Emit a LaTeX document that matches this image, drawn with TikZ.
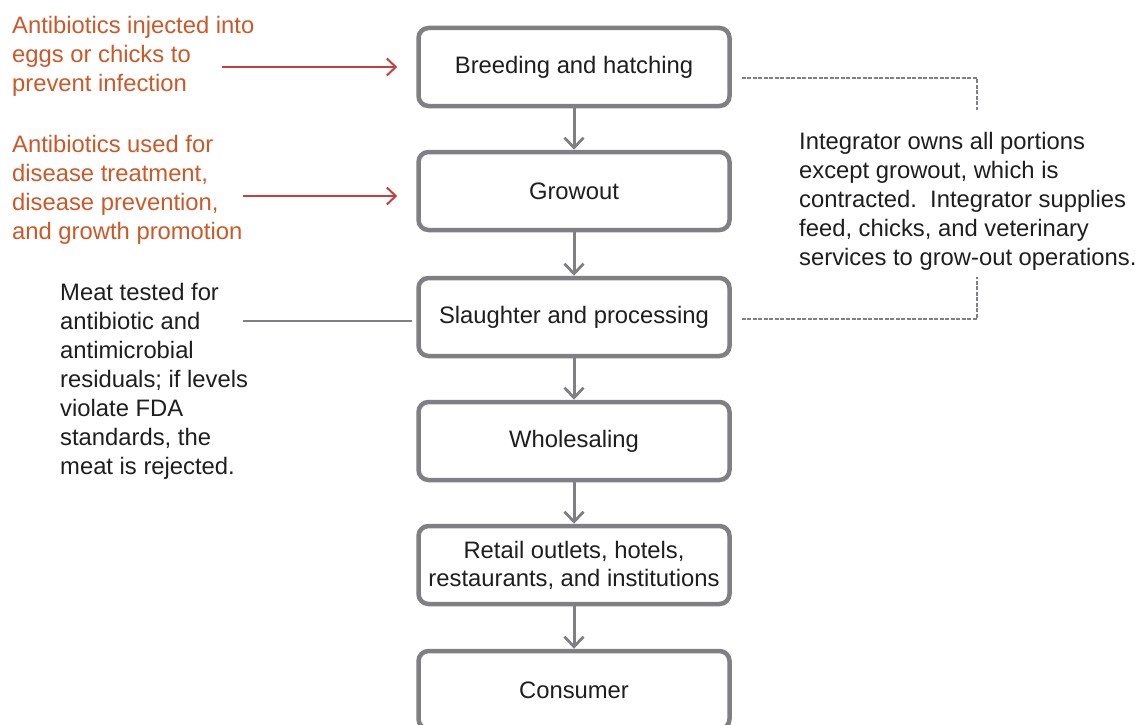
\documentclass[tikz,border=0pt]{standalone}
\usepackage{fontspec}
\setmainfont{Liberation Sans}
\usetikzlibrary{arrows.meta}
\definecolor{boxgray}{RGB}{128,128,132}
\definecolor{redarrow}{RGB}{196,64,64}
\definecolor{orangetext}{RGB}{204,88,40}
\definecolor{textblack}{RGB}{30,30,30}
\begin{document}
\begin{tikzpicture}[x=1pt,y=-1pt,
  stagebox/.style={draw=boxgray, line width=4.5pt, rounded corners=10pt, fill=white,
    minimum width=311pt, minimum height=78pt, align=center, text=textblack,
    font=\fontsize{23.8}{28}\selectfont, inner sep=0pt},
  flowarrow/.style={draw=boxgray, line width=3pt, -{Straight Barb[length=10pt,width=19pt,line width=2.8pt]}},
  redarr/.style={draw=redarrow, line width=2.3pt, -{Straight Barb[length=9pt,width=17pt,line width=2pt]}},
  note/.style={align=left, font=\fontsize{23.8}{29}\selectfont, inner sep=0pt, anchor=north west},
  bracket/.style={draw=boxgray, line width=1.3pt, dash pattern=on 4pt off 1.5pt}
]
\clip (0,0) rectangle (1140,725);
\useasboundingbox (0,0) rectangle (1140,725);

\node[stagebox] (b1) at (574,67) {\raisebox{-2pt}{Breeding and hatching}};
\node[stagebox] (b2) at (574,191) {\raisebox{-2pt}{Growout}};
\node[stagebox] (b3) at (574,317) {\raisebox{-2pt}{Slaughter and processing}};
\node[stagebox] (b4) at (574,441) {\raisebox{-2pt}{Wholesaling}};
\node[stagebox] (b5) at (574,565) {Retail outlets, hotels,\\restaurants, and institutions};
\node[stagebox] (b6) at (574,690) {\raisebox{-2pt}{Consumer}};

\draw[flowarrow] (b1.south) -- (b2.north);
\draw[flowarrow] (b2.south) -- (b3.north);
\draw[flowarrow] (b3.south) -- (b4.north);
\draw[flowarrow] (b4.south) -- (b5.north);
\draw[flowarrow] (b5.south) -- (b6.north);

\node[note, text=orangetext] (t1) at (12,16) {Antibiotics injected into\\eggs or chicks to\\prevent infection};
\node[note, text=orangetext] (t2) at (12,135) {Antibiotics used for\\disease treatment,\\disease prevention,\\and growth promotion};
\node[note, text=textblack] (t3) at (60,283) {Meat tested for\\antibiotic and\\antimicrobial\\residuals; if levels\\violate FDA\\standards, the\\meat is rejected.};
\node[note, text=textblack] (t4) at (799,132) {Integrator owns all portions\\except growout, which is\\contracted.\ \ Integrator supplies\\feed, chicks, and veterinary\\services to grow-out operations.};

\coordinate (a1s) at (222,67);
\coordinate (a2s) at (243,196);
\coordinate (l3s) at (243,321);
\draw[redarr] (a1s) -- ([xshift=-19pt]a1s -| b1.west);
\draw[redarr] (a2s) -- ([xshift=-19pt]a2s -| b2.west);
\draw[draw=boxgray, line width=1.8pt] (l3s) -- ([xshift=-4pt]l3s -| b3.west);

\coordinate (k1) at (977,78);
\coordinate (k1e) at (977,110);
\coordinate (k2) at (977,319);
\coordinate (k2e) at (977,277);
\draw[bracket] ([xshift=10pt]b1.east |- k1) -- (k1) -- (k1e);
\draw[bracket] ([xshift=10pt]b3.east |- k2) -- (k2) -- (k2e);
\end{tikzpicture}
\end{document}
